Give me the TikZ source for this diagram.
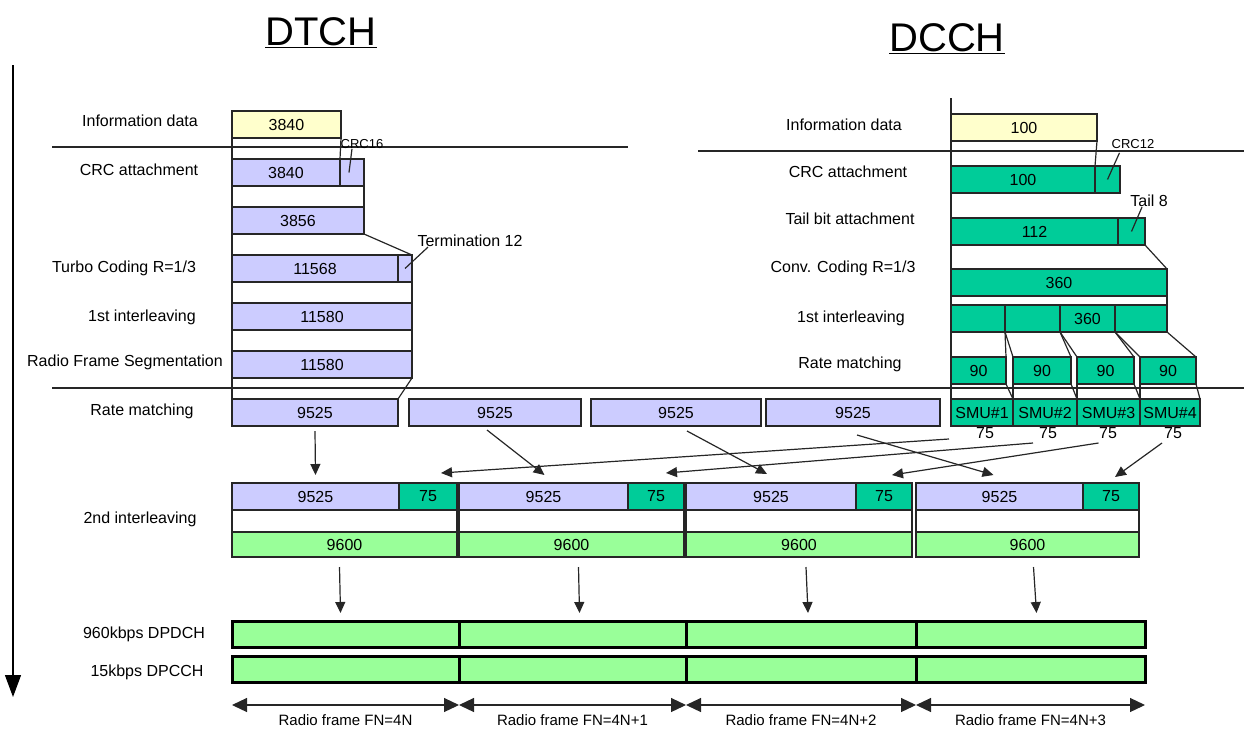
\documentclass[tikz,border=0pt]{standalone}
\usepackage{fontspec}
\setmainfont{Liberation Sans}
\usetikzlibrary{arrows.meta}
\definecolor{dtchblue}{HTML}{CCCCFF}
\definecolor{dcchgreen}{HTML}{00CC99}
\definecolor{infoyellow}{HTML}{FFFFCC}
\definecolor{phygreen}{HTML}{99FF99}
\newcommand{\lblfont}{\fontsize{16}{19}\selectfont}
\newcommand{\tinyfont}{\fontsize{13}{15}\selectfont}
\newcommand{\framefont}{\fontsize{15}{18}\selectfont}
\newcommand{\titlefont}{\fontsize{40}{46}\selectfont}
\tikzset{
  bw/.style={minimum width=#1},
  blk/.style={draw=black!85, line width=1.5pt, inner sep=0pt, outer sep=0pt,
    anchor=north west, minimum height=27pt, font=\lblfont},
  dtchbox/.style={blk, fill=dtchblue},
  dcchbox/.style={blk, fill=dcchgreen},
  infobox/.style={blk, fill=infoyellow},
  phybox/.style={blk, fill=phygreen, minimum height=25pt},
  chanbox/.style={blk, fill=phygreen, draw=black, line width=3pt, minimum height=26pt},
  rowlbl/.style={font=\lblfont, inner sep=0pt},
  link/.style={draw=black!85, line width=1.2pt},
  arr/.style={link, -{Triangle[length=11pt,width=10pt]}},
}
\begin{document}
\begin{tikzpicture}[x=1pt, y=-1pt]
\useasboundingbox (0,0) rectangle (1244,734);

% titles
\node[font=\titlefont, anchor=base] (dtch) at (321,45) {\underline{DTCH}};
\node[font=\titlefont, anchor=base] (dcch) at (947,51) {\underline{DCCH}};

% time axis
\coordinate (t0) at (13,65);
\coordinate (t1) at (13,697);
\draw[line width=1.3pt, -{Triangle[length=22pt,width=16pt]}] (t0) -- (t1);

% separators
\draw[link] (52,147) -- (628,147);
\draw[link] (698,151) -- (1244,151);
\draw[link] (52,388) -- (1244,388);

% ---- DTCH chain
\node[rowlbl] (li1) at (140,121) {Information data};
\node[rowlbl] (li2) at (139,170) {CRC attachment};
\node[rowlbl] (li3) at (124,268) {Turbo Coding R=1/3};
\node[rowlbl] (li4) at (142,317) {1st interleaving};
\node[rowlbl] (li5) at (125,362) {Radio Frame Segmentation};
\node[rowlbl] (li6) at (142,411) {Rate matching};
\node[rowlbl] (li7) at (140,519) {2nd interleaving};
\node[rowlbl] (li8) at (144,634) {960kbps DPDCH};
\node[rowlbl] (li9) at (147,672) {15kbps DPCCH};

\node[infobox, bw=109] (info) at (232,111) {3840};
\node[dtchbox, bw=108] (crca) at (232,159) {3840};
\node[dtchbox, bw=24] (crcb) at (340,159) {};
\node[dtchbox, bw=132] (seg) at (232,207) {3856};
\node[dtchbox, bw=166] (turboa) at (232,255) {11568};
\node[dtchbox, bw=14] (turbob) at (398,255) {};
\node[dtchbox, bw=180] (inter) at (232,303) {11580};
\node[dtchbox, bw=180] (rfs) at (232,351) {11580};
\node[dtchbox, bw=166] (rm1) at (232,399) {9525};
\node[dtchbox, bw=172] (rm2) at (409,399) {9525};
\node[dtchbox, bw=170] (rm3) at (591,399) {9525};
\node[dtchbox, bw=174] (rm4) at (766,399) {9525};

\node[font=\tinyfont, inner sep=0pt] (crc16) at (362,144) {CRC16};
\node[font=\lblfont, inner sep=0pt] (term) at (470,241) {Termination 12};

\draw[link] (info.north west) -- (rm1.north west);
\draw[link] (info.south east) -- (crca.north east);
\draw[link] (crcb.south east) -- (seg.north east);
\draw[link] (seg.south east) -- (turbob.north east);
\draw[link] (turbob.south east) -- (inter.north east);
\draw[link] (inter.south east) -- (rfs.north east);
\draw[link] (rfs.south east) -- (rm1.north east);
\draw[link] ([xshift=-10pt]crc16.south) -- ([xshift=-3pt]crcb.center);
\draw[link] ([xshift=-42pt]term.south) -- (turbob.center);

% ---- DCCH chain
\node[rowlbl] (lc1) at (844,125) {Information data};
\node[rowlbl] (lc2) at (848,172) {CRC attachment};
\node[rowlbl] (lc3) at (850,219) {Tail bit attachment};
\node[rowlbl] (lc4) at (843,268) {Conv. Coding R=1/3};
\node[rowlbl] (lc5) at (851,318) {1st interleaving};
\node[rowlbl] (lc6) at (850,364) {Rate matching};

\node[infobox, bw=146] (cinfo) at (951,114) {100};
\node[dcchbox, bw=144] (ccrca) at (951,166) {100};
\node[dcchbox, bw=25] (ccrcb) at (1095,166) {};
\node[dcchbox, bw=167] (taila) at (951,218) {112};
\node[dcchbox, bw=27] (tailb) at (1118,218) {};
\node[dcchbox, bw=216] (conv) at (951,269) {360};
\node[dcchbox, bw=54] (ci1) at (951,305) {};
\node[dcchbox, bw=55] (ci2) at (1005,305) {};
\node[dcchbox, bw=55] (ci3) at (1060,305) {360};
\node[dcchbox, bw=52] (ci4) at (1115,305) {};
\node[dcchbox, bw=55] (cr1) at (951,357) {90};
\node[dcchbox, bw=58] (cr2) at (1013,357) {90};
\node[dcchbox, bw=57] (cr3) at (1077,357) {90};
\node[dcchbox, bw=56] (cr4) at (1140,357) {90};
\node[dcchbox, bw=62] (smu1) at (951,399) {SMU\#1};
\node[dcchbox, bw=64] (smu2) at (1013,399) {SMU\#2};
\node[dcchbox, bw=63] (smu3) at (1077,399) {SMU\#3};
\node[dcchbox, bw=60] (smu4) at (1140,399) {SMU\#4};

\node[font=\tinyfont, inner sep=0pt] (crc12) at (1133,144) {CRC12};
\node[font=\lblfont, inner sep=0pt] (tail8) at (1149,201) {Tail 8};
\node[font=\lblfont, inner sep=0pt] (s1) at (985,433) {75};
\node[font=\lblfont, inner sep=0pt] (s2) at (1048,433) {75};
\node[font=\lblfont, inner sep=0pt] (s3) at (1108,433) {75};
\node[font=\lblfont, inner sep=0pt] (s4) at (1173,433) {75};

\coordinate (ctop) at (951,98);
\draw[link] (ctop) -- (smu1.north west);
\draw[link] (cinfo.south east) -- (ccrca.north east);
\draw[link] ([shift={(8pt,-4pt)}]crc12.south west) -- (ccrcb.center);
\draw[link] ([xshift=-7pt]tail8.south) -- (tailb.center);
\draw[link] (tailb.south east) -- (conv.north east);
\draw[link] (conv.south east) -- (ci4.north east);
\draw[link] (ci1.south east) -- (cr1.north east);
\draw[link] (ci2.south west) -- (cr2.north west);
\draw[link] (ci2.south east) -- (cr2.north east);
\draw[link] (ci3.south west) -- (cr3.north west);
\draw[link] (ci3.south east) -- (cr3.north east);
\draw[link] (ci4.south west) -- (cr4.north west);
\draw[link] (ci4.south east) -- (cr4.north east);
\foreach \i in {1,...,4} {
  \draw[link] (cr\i.south west) -- (smu\i.north west);
  \draw[link] (cr\i.south east) -- (smu\i.north east);
}

% ---- 2nd interleaving and radio frames
\foreach \i/\xa/\xb/\xc in {1/232/399/457, 2/459/628/684, 3/686/856/912, 4/916/1083/1139} {
  \node[dtchbox, bw=\xb-\xa] (fa\i) at (\xa,483) {9525};
  \node[dcchbox, bw=\xc-\xb] (fb\i) at (\xb,483) {75};
  \node[phybox, bw=\xc-\xa] (p\i) at (\xa,532) {9600};
  \draw[link] (fa\i.south west) -- (p\i.north west);
  \draw[link] (fb\i.south east) -- (p\i.north east);
}
\foreach \i/\xa/\xb/\dx/\fn in {1/232/459/-5/4N, 2/459/686/7/4N+1, 3/686/916/7/4N+2, 4/916/1145/6/4N+3} {
  \node[chanbox, bw=\xb-\xa] (d\i) at (\xa,621) {};
  \node[chanbox, bw=\xb-\xa] (c\i) at (\xa,656) {};
  \draw[arr] ([shift={(\dx pt,-10pt)}]p\i.south) -- ([shift={(\dx pt,8pt)}]d\i.north);
  \draw[link, {Triangle[length=15pt,width=14pt]}-{Triangle[length=15pt,width=14pt]}]
    ([yshift=-23pt]c\i.south west) -- ([yshift=-23pt]c\i.south east)
    node[midway, below=9pt, font=\framefont, inner sep=0pt] (fn\i) {Radio frame FN=\fn};
}

% mapping onto radio frames
\draw[arr] ([yshift=-5pt]rm1.south) -- ([yshift=8pt]fa1.north);
\draw[arr] ([shift={(-8pt,-4pt)}]rm2.south) -- ([shift={(1pt,8pt)}]fa2.north);
\draw[arr] ([shift={(11pt,-5pt)}]rm3.south) -- ([shift={(-4pt,9pt)}]fa3.north);
\draw[arr] ([shift={(4pt,-9pt)}]rm4.south) -- ([shift={(-6pt,8pt)}]fa4.north);
\draw[arr] ([shift={(-2pt,-13pt)}]smu1.south west) -- ([shift={(13pt,10pt)}]fb1.north);
\draw[arr] ([shift={(-12pt,-17pt)}]smu2.south) -- ([shift={(10pt,10pt)}]fb2.north);
\draw[arr] ([shift={(-10pt,-17pt)}]smu3.south) -- ([shift={(8pt,8pt)}]fb3.north);
\draw[arr] ([shift={(-8pt,-17pt)}]smu4.south) -- ([shift={(4pt,6pt)}]fb4.north);

\end{tikzpicture}
\end{document}
